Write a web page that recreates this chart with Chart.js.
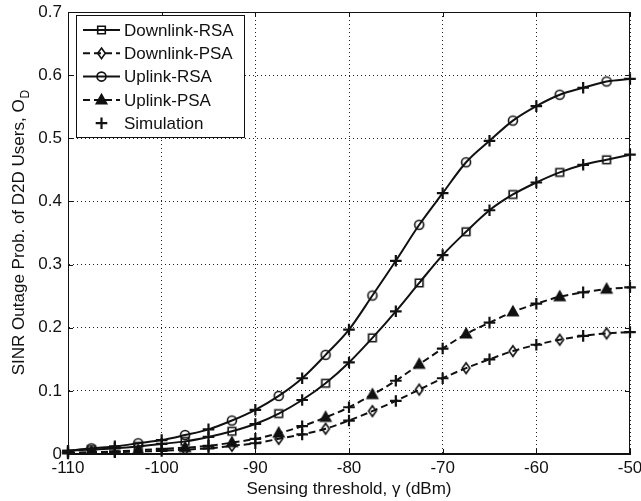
<!DOCTYPE html>
<html>
<head>
<meta charset="utf-8">
<title>SINR outage probability of D2D users</title>
<script src="https://cdn.jsdelivr.net/npm/chart.js@4.4.1/dist/chart.umd.min.js"></script>
<style>
    html, body { margin: 0; padding: 0; background: #fff; }
    #wrap { width: 641px; height: 501px; }
</style>
</head>
<body>
<div id="wrap"><canvas id="outageChart" width="641" height="501"></canvas></div>
<script>
// Sensing thresholds (dBm) of the analytical markers and of the simulation points
const modelThresholds = [-107.5, -102.5, -97.5, -92.5, -87.5, -82.5, -77.5, -72.5, -67.5, -62.5, -57.5, -52.5];
const simThresholds = [-110, -105, -100, -95, -90, -85, -80, -75, -70, -65, -60, -55, -50];

// Analytical curves (values at the marker positions)
const downlinkRsa = [0.007, 0.012, 0.020, 0.036, 0.064, 0.112, 0.184, 0.271, 0.352, 0.411, 0.446, 0.466];
const downlinkPsa = [0.002, 0.004, 0.007, 0.013, 0.024, 0.040, 0.068, 0.102, 0.136, 0.163, 0.181, 0.191];
const uplinkRsa = [0.009, 0.017, 0.030, 0.053, 0.092, 0.157, 0.251, 0.363, 0.462, 0.528, 0.569, 0.590];
const uplinkPsa = [0.003, 0.006, 0.010, 0.018, 0.033, 0.058, 0.094, 0.142, 0.190, 0.225, 0.249, 0.261];

// Simulation results
const simDownlinkRsa = [0.005, 0.009, 0.016, 0.027, 0.0475, 0.0855, 0.145, 0.226, 0.315, 0.386, 0.430, 0.458, 0.474];
const simDownlinkPsa = [0.001, 0.003, 0.005, 0.009, 0.017, 0.031, 0.053, 0.084, 0.120, 0.150, 0.173, 0.187, 0.193];
const simUplinkRsa = [0.005, 0.012, 0.022, 0.039, 0.070, 0.120, 0.197, 0.306, 0.413, 0.496, 0.551, 0.580, 0.594];
const simUplinkPsa = [0.002, 0.004, 0.008, 0.013, 0.024, 0.044, 0.074, 0.116, 0.167, 0.208, 0.238, 0.256, 0.264];

// Axis ticks
const xTicks = [-110, -100, -90, -80, -70, -60, -50];
const yTicks = [0, 0.1, 0.2, 0.3, 0.4, 0.5, 0.6, 0.7];

const FONT = '"Liberation Sans", Arial, Helvetica, sans-serif';
const INK = '#111';

// Draw a MATLAB style marker
function drawMarker(ctx, kind, x, y) {
    ctx.save();
    ctx.strokeStyle = INK;
    ctx.fillStyle = INK;
    ctx.lineWidth = 1.6;
    ctx.beginPath();
    switch (kind) {
        case 'square':
            ctx.rect(x - 3.8, y - 3.8, 7.6, 7.6);
            ctx.stroke();
            break;
        case 'circle':
            ctx.arc(x, y, 4.5, 0, Math.PI * 2);
            ctx.stroke();
            break;
        case 'diamond':
            ctx.moveTo(x, y - 5.3);
            ctx.lineTo(x + 3.8, y);
            ctx.lineTo(x, y + 5.3);
            ctx.lineTo(x - 3.8, y);
            ctx.closePath();
            ctx.stroke();
            break;
        case 'triangle':
            ctx.moveTo(x, y - 5.5);
            ctx.lineTo(x + 5.2, y + 3.8);
            ctx.lineTo(x - 5.2, y + 3.8);
            ctx.closePath();
            ctx.fill();
            ctx.stroke();
            break;
        case 'plus':
            ctx.lineWidth = 2.2;
            ctx.moveTo(x - 5.8, y);
            ctx.lineTo(x + 5.8, y);
            ctx.moveTo(x, y - 5.8);
            ctx.lineTo(x, y + 5.8);
            ctx.stroke();
            break;
    }
    ctx.restore();
}

// Small canvases used as point styles
function markerImage(kind) {
    const c = document.createElement('canvas');
    c.width = 16;
    c.height = 16;
    drawMarker(c.getContext('2d'), kind, 8, 8);
    return c;
}

// Interleave simulation-grid values and marker values into one smooth curve
function buildCurve(model, sim) {
    const pts = [];
    simThresholds.forEach((x, i) => {
        pts.push({ x: x, y: sim[i] });
        if (i < model.length) {
            pts.push({ x: modelThresholds[i], y: model[i] });
        }
    });
    return pts;
}

function simPoints(values) {
    return simThresholds.map((x, i) => ({ x: x, y: values[i] }));
}

const series = [
    { label: 'Downlink-RSA', model: downlinkRsa, sim: simDownlinkRsa, marker: 'square', dashed: false },
    { label: 'Downlink-PSA', model: downlinkPsa, sim: simDownlinkPsa, marker: 'diamond', dashed: true },
    { label: 'Uplink-RSA', model: uplinkRsa, sim: simUplinkRsa, marker: 'circle', dashed: false },
    { label: 'Uplink-PSA', model: uplinkPsa, sim: simUplinkPsa, marker: 'triangle', dashed: true }
];

const datasets = [];
series.forEach(s => {
    const img = markerImage(s.marker);
    datasets.push({
        label: s.label,
        data: buildCurve(s.model, s.sim),
        borderColor: INK,
        borderWidth: 2,
        borderDash: s.dashed ? [7, 4] : [],
        cubicInterpolationMode: 'monotone',
        fill: false,
        pointStyle: img,
        pointRadius: ctx => (ctx.dataIndex % 2 === 1 ? 4 : 0),
        pointHoverRadius: 0
    });
});
series.forEach(s => {
    datasets.push({
        label: 'Simulation',
        data: simPoints(s.sim),
        showLine: false,
        pointStyle: 'cross',
        pointRadius: 5.8,
        pointBorderWidth: 2.2,
        pointBorderColor: INK,
        pointHoverRadius: 0,
        clip: false
    });
});

// Box, inward ticks, axis titles and legend
const matlabFrame = {
    id: 'matlabFrame',
    afterDraw(chart) {
        const ctx = chart.ctx;
        const a = chart.chartArea;
        const xs = chart.scales.x;
        const ys = chart.scales.y;

        ctx.save();
        ctx.strokeStyle = INK;
        ctx.lineWidth = 1;
        ctx.strokeRect(a.left + 0.5, a.top + 0.5, a.right - a.left - 1, a.bottom - a.top - 1);

        // inward tick marks on all four sides
        ctx.beginPath();
        xTicks.forEach(v => {
            const px = Math.round(xs.getPixelForValue(v)) + 0.5;
            ctx.moveTo(px, a.bottom);
            ctx.lineTo(px, a.bottom - 5);
            ctx.moveTo(px, a.top);
            ctx.lineTo(px, a.top + 5);
        });
        yTicks.forEach(v => {
            const py = Math.round(ys.getPixelForValue(v)) + 0.5;
            ctx.moveTo(a.left, py);
            ctx.lineTo(a.left + 5, py);
            ctx.moveTo(a.right, py);
            ctx.lineTo(a.right - 5, py);
        });
        ctx.stroke();

        // x axis title
        ctx.fillStyle = INK;
        ctx.font = '17px ' + FONT;
        ctx.textAlign = 'center';
        ctx.textBaseline = 'middle';
        ctx.fillText('Sensing threshold, \u03b3 (dBm)', (a.left + a.right) / 2, 489);

        // y axis title with subscript
        const main = 'SINR Outage Prob. of D2D Users, O';
        ctx.font = '17px ' + FONT;
        const wMain = ctx.measureText(main).width;
        ctx.font = '12px ' + FONT;
        const wSub = ctx.measureText('D').width;
        const total = wMain + wSub;
        ctx.save();
        ctx.translate(24, (a.top + a.bottom) / 2);
        ctx.rotate(-Math.PI / 2);
        ctx.textAlign = 'left';
        ctx.textBaseline = 'alphabetic';
        ctx.font = '17px ' + FONT;
        ctx.fillText(main, -total / 2, 0);
        ctx.font = '12px ' + FONT;
        ctx.fillText('D', -total / 2 + wMain + 1, 5);
        ctx.restore();

        // legend
        const lx = 76, ly = 15, lw = 168, lh = 122;
        ctx.fillStyle = '#fff';
        ctx.fillRect(lx, ly, lw, lh);
        ctx.strokeStyle = INK;
        ctx.lineWidth = 1;
        ctx.strokeRect(lx + 0.5, ly + 0.5, lw, lh);

        const rows = series.map(s => ({ label: s.label, marker: s.marker, dashed: s.dashed, line: true }));
        rows.push({ label: 'Simulation', marker: 'plus', line: false });
        rows.forEach((r, i) => {
            const y = 30 + i * 23.3;
            if (r.line) {
                ctx.save();
                ctx.strokeStyle = INK;
                ctx.lineWidth = 2;
                ctx.setLineDash(r.dashed ? [7, 4] : []);
                ctx.beginPath();
                ctx.moveTo(83, y);
                ctx.lineTo(120, y);
                ctx.stroke();
                ctx.restore();
            }
            drawMarker(ctx, r.marker, 101.5, y);
            ctx.fillStyle = INK;
            ctx.font = '17px ' + FONT;
            ctx.textAlign = 'left';
            ctx.textBaseline = 'middle';
            ctx.fillText(r.label, 124, y + 1);
        });
        ctx.restore();
    }
};

new Chart(document.getElementById('outageChart'), {
    type: 'line',
    data: { datasets: datasets },
    plugins: [matlabFrame],
    options: {
        responsive: false,
        devicePixelRatio: 1,
        animation: false,
        events: [],
        layout: { padding: { top: 12, right: 0, left: 0, bottom: 0 } },
        plugins: {
            legend: { display: false },
            tooltip: { enabled: false }
        },
        scales: {
            x: {
                type: 'linear',
                min: -110,
                max: -50,
                afterFit: scale => {
                    scale.height = 47;
                    scale.paddingLeft = 0;
                    scale.paddingRight = 11;
                },
                afterBuildTicks: scale => { scale.ticks = xTicks.map(v => ({ value: v })); },
                ticks: {
                    color: INK,
                    font: { family: FONT, size: 17 },
                    padding: 4,
                    maxRotation: 0,
                    callback: v => String(v)
                },
                grid: { color: '#222', lineWidth: 1, drawTicks: false },
                border: { display: true, color: INK, width: 1, dash: [1, 3] }
            },
            y: {
                type: 'linear',
                min: 0,
                max: 0.7,
                afterFit: scale => {
                    scale.width = 68;
                    scale.paddingTop = 0;
                    scale.paddingBottom = 0;
                },
                afterBuildTicks: scale => { scale.ticks = yTicks.map(v => ({ value: v })); },
                ticks: {
                    color: INK,
                    font: { family: FONT, size: 17 },
                    padding: 6,
                    callback: v => String(+v.toFixed(1))
                },
                grid: { color: '#222', lineWidth: 1, drawTicks: false },
                border: { display: true, color: INK, width: 1, dash: [1, 3] }
            }
        }
    }
});
</script>
</body>
</html>
